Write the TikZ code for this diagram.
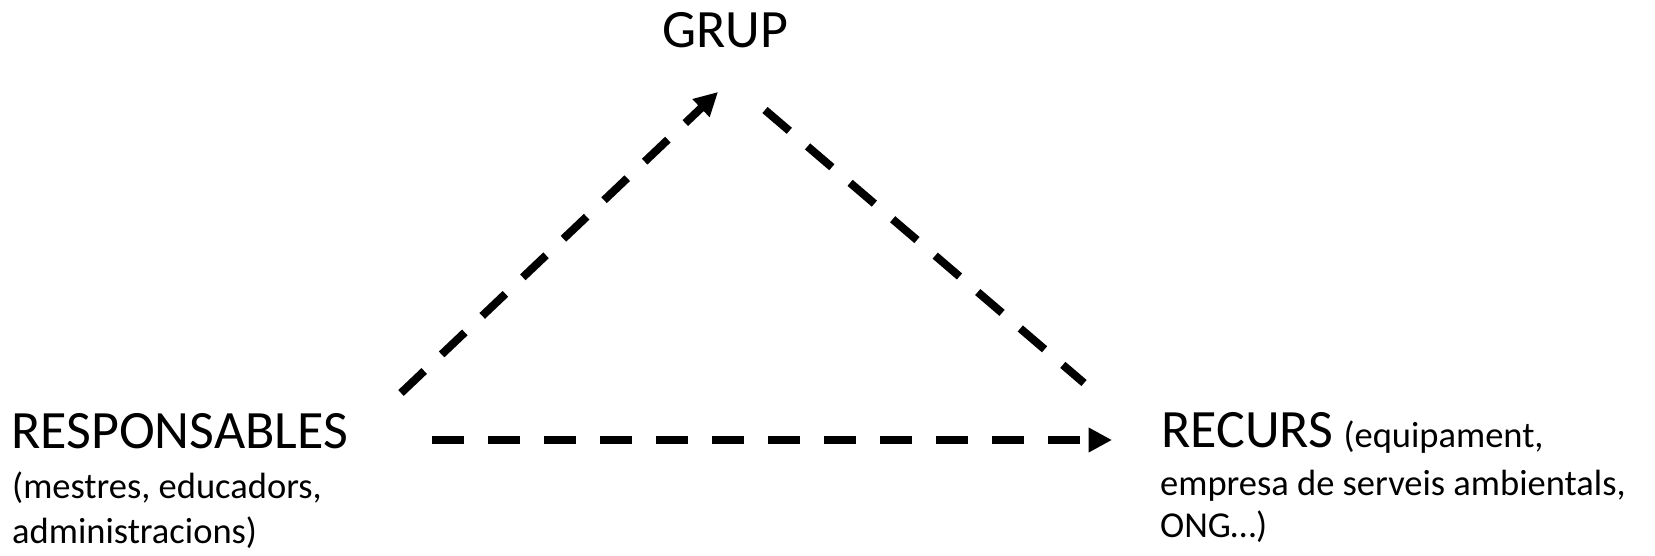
\documentclass[tikz,border=0pt]{standalone}
\usepackage{fontspec}
\setmainfont{Carlito}
\usetikzlibrary{arrows.meta}
\begin{document}
\begin{tikzpicture}[x=1pt,y=-1pt,
  big/.style={inner sep=0pt,anchor=base west,font=\fontsize{54}{62}\selectfont},
  small/.style={inner sep=0pt,anchor=base west,font=\fontsize{36.5}{44}\selectfont},
  conn/.style={line width=8pt,dash pattern=on 32pt off 24pt},
  tip/.style={-{Triangle[length=23.5pt,width=23.5pt]}}]
\useasboundingbox (0,0) rectangle (1655,555);
\node[big] (grup) at (662,47) {GRUP};
\node[big] (resp) at (11,448) {RESPONSABLES};
\node[small] (resp2) at (12,498) {(mestres, educadors,};
\node[small] (resp3) at (12,543) {administracions)};
\node[big] (recurs) at (1161,447) {RECURS};
\node[small] (recursb) at (recurs.base east) [xshift=10pt] {(equipament,};
\node[small] (recurs2) at (1160,495) {empresa de serveis ambientals,};
\node[small] (recurs3) at (1160,537) {ONG…)};
\coordinate (aS) at (401,393);
\coordinate (aE) at (718,92);
\coordinate (bS) at (765,110);
\coordinate (bE) at (1084,383);
\coordinate (cS) at (432,440);
\coordinate (cE) at (1112,440);
\draw[conn,tip] (aS) -- (aE);
\draw[conn] (bS) -- (bE);
\draw[conn,tip] (cS) -- (cE);
\end{tikzpicture}
\end{document}
